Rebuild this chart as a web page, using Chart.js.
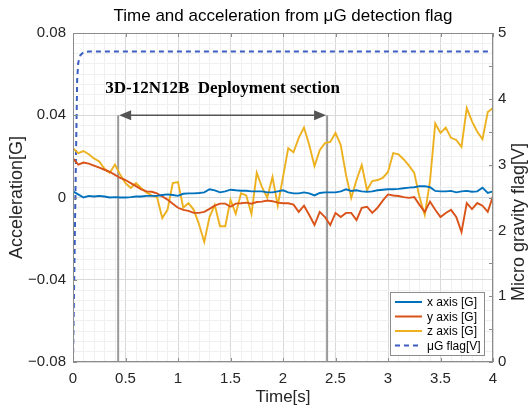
<!DOCTYPE html>
<html>
<head>
<meta charset="utf-8">
<script src="https://cdn.jsdelivr.net/npm/chart.js@4.4.1/dist/chart.umd.min.js"></script>
<style>
  html, body { margin: 0; padding: 0; background: #fff; }
  #wrap { width: 530px; height: 408px; }
</style>
</head>
<body>
<div id="wrap"><canvas id="accelChart"></canvas></div>
<script>
// time axis [s]
const timeS = [
  0, 0.05, 0.1, 0.15, 0.2, 0.25, 0.3, 0.35, 0.4, 0.45,
  0.5, 0.55, 0.6, 0.65, 0.7, 0.75, 0.8, 0.85, 0.9, 0.95,
  1.0, 1.05, 1.1, 1.15, 1.2, 1.25, 1.3, 1.35, 1.4, 1.45,
  1.5, 1.55, 1.6, 1.65, 1.7, 1.75, 1.8, 1.85, 1.9, 1.95,
  2.0, 2.05, 2.1, 2.15, 2.2, 2.25, 2.3, 2.35, 2.4, 2.45,
  2.5, 2.55, 2.6, 2.65, 2.7, 2.75, 2.8, 2.85, 2.9, 2.95,
  3.0, 3.05, 3.1, 3.15, 3.2, 3.25, 3.3, 3.35, 3.4, 3.45,
  3.5, 3.55, 3.6, 3.65, 3.7, 3.75, 3.8, 3.85, 3.9, 3.95,
  4.0
];

const xAxisG = [
  0.003, 0.0015, 0.0, 0.0008, 0.0005, 0.0008, 0.0005, 0.0, 0.0002, 0.0,
  0.0, 0.0002, 0.0005, 0.0005, 0.0008, 0.0008, 0.0008, 0.0012, 0.0015, 0.0012,
  0.0008, 0.0018, 0.002, 0.002, 0.0022, 0.0025, 0.004, 0.0035, 0.0025, 0.003,
  0.0038, 0.0035, 0.0033, 0.0033, 0.003, 0.003, 0.003, 0.0025, 0.0025, 0.003,
  0.0035, 0.0025, 0.002, 0.002, 0.0025, 0.002, 0.001, 0.0022, 0.0025, 0.0025,
  0.0025, 0.003, 0.004, 0.0032, 0.0035, 0.003, 0.0028, 0.003, 0.0035, 0.0038,
  0.004, 0.004, 0.0042, 0.0045, 0.0048, 0.005, 0.0055, 0.0055, 0.005, 0.0032,
  0.003, 0.003, 0.0032, 0.0025, 0.003, 0.0032, 0.0028, 0.003, 0.0048, 0.0022,
  0.003
];

const yAxisG = [
  0.019, 0.016, 0.017, 0.0165, 0.0155, 0.0145, 0.0135, 0.0125, 0.011, 0.0095,
  0.0085, 0.007, 0.0055, 0.004, 0.003, 0.0028, 0.002, 0.0005, -0.001, -0.003,
  -0.005, -0.006, -0.0065, -0.0075, -0.0075, -0.007, -0.0055, -0.004, -0.003, -0.003,
  -0.0045, -0.003, -0.0028, -0.0025, -0.003, -0.0022, -0.002, -0.0015, -0.0018, -0.0025,
  -0.0028, -0.0028, -0.0035, -0.007, -0.004, -0.0085, -0.0134, -0.007, -0.0095, -0.0134,
  -0.0075, -0.0095, -0.0075, -0.0075, -0.011, -0.005, -0.0045, -0.0075, -0.005, -0.0015,
  0.0015, 0.001, 0.0007, 0.0002, -0.0002, 0.0002, -0.0036, -0.007, -0.002, -0.006,
  -0.0095, -0.0075, -0.006, -0.0095, -0.0168, -0.0027, -0.0056, -0.0027, -0.004, -0.007,
  0.0007
];

const zAxisG = [
  0.024, 0.0216, 0.0226, 0.021, 0.019, 0.0175, 0.014, 0.012, 0.016, 0.011,
  0.007, 0.0046, 0.007, 0.0045, 0.0025, 0.001, 0.0002, -0.01, -0.006, 0.007,
  0.0075, -0.005, -0.0027, -0.006, -0.013, -0.0216, -0.0095, -0.0036, -0.014, -0.014,
  -0.0012, -0.008, 0.002, 0.001, -0.008, 0.012, 0.005, 0.0, 0.01, -0.004,
  0.01, 0.024, 0.022, 0.029, 0.034, 0.0255, 0.0153, 0.023, 0.0265, 0.027,
  0.0314, 0.0255, 0.011, -0.0002, 0.0085, 0.0158, 0.0036, 0.008, 0.0085, 0.0095,
  0.0124, 0.0216, 0.021, 0.0185, 0.0155, 0.012, 0.0002, -0.0085, 0.008, 0.036,
  0.0314, 0.034, 0.029, 0.028, 0.0246, 0.0435, 0.037, 0.032, 0.0284, 0.0416,
  0.0435
];

// µG detection flag [V]
const flagTimeS = [0, 0.01, 0.02, 0.03, 0.04, 0.05, 0.07, 0.1, 0.15, 4.0];
const flagV = [0, 1.1, 2.2, 3.3, 4.3, 4.55, 4.66, 4.71, 4.72, 4.72];

const seriesLabels = ['x axis [G]', 'y axis [G]', 'z axis [G]', 'μG flag[V]'];
const seriesColors = ['#0072BD', '#D95319', '#EDB120', '#3a5fc0'];

const chartTitle = 'Time and acceleration from μG detection flag';
const rightAxisTitle = 'Micro gravity flag[V]';

// deployment section markers
const sectionStart = 0.43;
const sectionEnd = 2.42;
const sectionArrowG = 0.04;
const sectionTextG = 0.053;
const sectionText = '3D-12N12B  Deployment section';

const toPoints = (xs, ys) => xs.map((t, i) => ({ x: t, y: ys[i] }));

const isMultiple = (v, step) => Math.abs(v / step - Math.round(v / step)) < 1e-6;

const deployPlugin = {
  id: 'deploy',
  beforeDatasetsDraw(chart) {
    const { ctx, scales: { x, y } } = chart;
    ctx.save();
    ctx.strokeStyle = '#9a9a9a';
    ctx.lineWidth = 2;
    [sectionStart, sectionEnd].forEach(t => {
      const px = x.getPixelForValue(t);
      ctx.beginPath();
      ctx.moveTo(px, y.getPixelForValue(sectionArrowG));
      ctx.lineTo(px, y.getPixelForValue(-0.08));
      ctx.stroke();
    });
    ctx.restore();
  },
  afterDatasetsDraw(chart) {
    const { ctx, chartArea: a, scales: { x, y, y2 } } = chart;
    ctx.save();
    // frame
    ctx.strokeStyle = '#8c8c8c';
    ctx.lineWidth = 1;
    ctx.strokeRect(a.left + 0.5, a.top + 0.5, a.width - 1, a.height - 1);
    // inward tick marks
    ctx.beginPath();
    x.ticks.forEach(tk => {
      if (!isMultiple(tk.value, 0.5)) return;
      const px = Math.round(x.getPixelForValue(tk.value)) + 0.5;
      ctx.moveTo(px, a.bottom); ctx.lineTo(px, a.bottom - 4);
      ctx.moveTo(px, a.top); ctx.lineTo(px, a.top + 4);
    });
    y.ticks.forEach(tk => {
      if (!isMultiple(tk.value, 0.04)) return;
      const py = Math.round(y.getPixelForValue(tk.value)) + 0.5;
      ctx.moveTo(a.left, py); ctx.lineTo(a.left + 4, py);
    });
    y2.ticks.forEach(tk => {
      const py = Math.round(y2.getPixelForValue(tk.value)) + 0.5;
      ctx.moveTo(a.right, py); ctx.lineTo(a.right - 4, py);
    });
    ctx.stroke();

    // arrow
    const x1 = x.getPixelForValue(sectionStart);
    const x2 = x.getPixelForValue(sectionEnd);
    const ay = y.getPixelForValue(sectionArrowG);
    ctx.strokeStyle = '#555';
    ctx.fillStyle = '#555';
    ctx.lineWidth = 1.5;
    ctx.beginPath();
    ctx.moveTo(x1 + 8, ay);
    ctx.lineTo(x2 - 8, ay);
    ctx.stroke();
    ctx.beginPath();
    ctx.moveTo(x1 + 1, ay); ctx.lineTo(x1 + 13, ay - 5); ctx.lineTo(x1 + 13, ay + 5); ctx.closePath();
    ctx.moveTo(x2 - 1, ay); ctx.lineTo(x2 - 13, ay - 5); ctx.lineTo(x2 - 13, ay + 5); ctx.closePath();
    ctx.fill();

    // label
    ctx.fillStyle = '#000';
    ctx.font = 'bold 17px "Liberation Serif", "Times New Roman", serif';
    ctx.textAlign = 'center';
    ctx.textBaseline = 'middle';
    ctx.fillText(sectionText, (x1 + x2) / 2, y.getPixelForValue(sectionTextG));
    ctx.restore();
  },
  afterDraw(chart) {
    const { ctx, chartArea: a } = chart;
    ctx.save();
    // title centred over the axes box, like MATLAB
    ctx.font = '17px "Liberation Sans", Arial, sans-serif';
    ctx.fillStyle = '#000';
    ctx.textAlign = 'center';
    ctx.textBaseline = 'middle';
    ctx.fillText(chartTitle, (a.left + a.right) / 2, 16);

    // right axis title (reads bottom to top like MATLAB)
    ctx.translate(519, 222);
    ctx.rotate(-Math.PI / 2);
    ctx.font = '18px "Liberation Sans", Arial, sans-serif';
    ctx.fillStyle = '#262626';
    ctx.fillText(rightAxisTitle, 0, 0);
    ctx.restore();

    // legend box
    ctx.save();
    const bw = 94, bh = 63;
    const bx = a.right - 9 - bw, by = a.bottom - 7 - bh;
    ctx.fillStyle = '#fff';
    ctx.fillRect(bx, by, bw, bh);
    ctx.strokeStyle = '#8c8c8c';
    ctx.lineWidth = 1;
    ctx.strokeRect(bx + 0.5, by + 0.5, bw, bh);
    ctx.font = '12px "Liberation Sans", Arial, sans-serif';
    ctx.textBaseline = 'middle';
    ctx.textAlign = 'left';
    chart.data.datasets.forEach((ds, i) => {
      const ry = by + 10 + i * 14.5;
      ctx.strokeStyle = ds.borderColor;
      ctx.lineWidth = 2;
      ctx.setLineDash(ds.borderDash || []);
      ctx.beginPath();
      ctx.moveTo(bx + 5, ry);
      ctx.lineTo(bx + 32, ry);
      ctx.stroke();
      ctx.setLineDash([]);
      ctx.fillStyle = '#000';
      ctx.fillText(ds.label, bx + 37, ry + 1);
    });
    ctx.restore();
  }
};

Chart.defaults.font.family = '"Liberation Sans", Arial, sans-serif';
Chart.defaults.color = '#262626';

const ctx = document.getElementById('accelChart').getContext('2d');

const lineStyle = color => ({
  borderColor: color,
  backgroundColor: color,
  borderWidth: 1.9,
  pointRadius: 0,
  tension: 0,
  fill: false
});

const accelChart = new Chart(ctx, {
  type: 'line',
  data: {
    datasets: [
      { label: seriesLabels[0], data: toPoints(timeS, xAxisG), yAxisID: 'y', ...lineStyle(seriesColors[0]) },
      { label: seriesLabels[1], data: toPoints(timeS, yAxisG), yAxisID: 'y', ...lineStyle(seriesColors[1]) },
      { label: seriesLabels[2], data: toPoints(timeS, zAxisG), yAxisID: 'y', ...lineStyle(seriesColors[2]) },
      { label: seriesLabels[3], data: toPoints(flagTimeS, flagV), yAxisID: 'y2', ...lineStyle(seriesColors[3]), borderDash: [5, 4], borderWidth: 2 }
    ]
  },
  options: {
    responsive: true,
    maintainAspectRatio: false,
    animation: false,
    layout: { padding: { top: 33, left: 0, right: 0, bottom: 0 } },
    plugins: {
      legend: { display: false },
      tooltip: { enabled: false },
      title: { display: false }
    },
    scales: {
      x: {
        type: 'linear',
        min: 0,
        max: 4,
        afterFit: s => { s.height = 46; },
        ticks: {
          stepSize: 0.1,
          autoSkip: false,
          maxRotation: 0,
          padding: 8,
          color: '#262626',
          font: { size: 15 },
          callback: v => isMultiple(v, 0.5) ? String(Math.round(v * 10) / 10) : ''
        },
        grid: {
          drawTicks: false,
          color: c => isMultiple(c.tick.value, 0.5) ? '#d9d9d9' : '#f0f0f0'
        },
        border: { display: false },
        title: {
          display: true,
          text: 'Time[s]',
          color: '#262626',
          font: { size: 17 },
          padding: { top: 0, bottom: 0 }
        }
      },
      y: {
        position: 'left',
        min: -0.08,
        max: 0.08,
        afterFit: s => { s.width = 73; },
        ticks: {
          stepSize: 0.005,
          autoSkip: false,
          padding: 7,
          color: '#262626',
          font: { size: 15 },
          callback: v => {
            if (!isMultiple(v, 0.04)) return '';
            const r = Math.round(v * 100) / 100;
            if (r === 0) return '0';
            return r < 0 ? '\u2212' + Math.abs(r) : String(r);
          }
        },
        grid: {
          drawTicks: false,
          color: c => isMultiple(c.tick.value, 0.04) ? '#d9d9d9' : '#f0f0f0'
        },
        border: { display: false },
        title: {
          display: true,
          text: 'Acceleration[G]',
          color: '#262626',
          font: { size: 18 },
          padding: { top: 6, bottom: 0 }
        }
      },
      y2: {
        position: 'right',
        min: 0,
        max: 5,
        afterFit: s => { s.width = 37; },
        ticks: {
          stepSize: 0.5,
          autoSkip: false,
          padding: 5,
          color: '#262626',
          font: { size: 15 },
          callback: v => isMultiple(v, 1) ? String(Math.round(v)) : ''
        },
        grid: { drawOnChartArea: false, drawTicks: false },
        border: { display: false }
      }
    }
  },
  plugins: [deployPlugin]
});
</script>
</body>
</html>
